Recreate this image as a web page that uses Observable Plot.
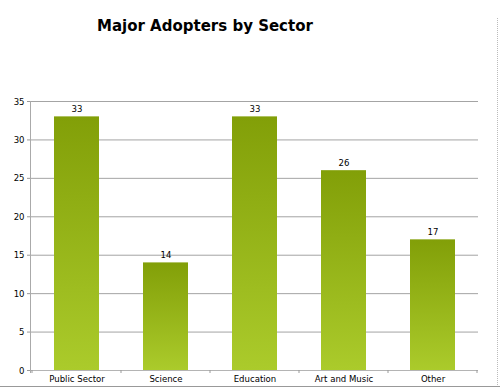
<!DOCTYPE html>
<html>
<head>
<meta charset="utf-8">
<script src="https://cdn.jsdelivr.net/npm/d3@7"></script>
<script src="https://cdn.jsdelivr.net/npm/@observablehq/plot@0.6"></script>
<style>
  html, body { margin: 0; padding: 0; background: #fff; }
  #wrap { position: relative; width: 500px; height: 387px; overflow: hidden; }
  #title { position: absolute; left: 97px; top: 18px; white-space: nowrap; line-height: 17px;
           font-family: "DejaVu Sans", Verdana, sans-serif; font-weight: bold; font-size: 15px; color: #000; }
  #chart { position: absolute; left: 0; top: 60px; }
  #edgeR { position: absolute; left: 497px; top: 18px; height: 369px; border-left: 1px dotted #bbb; }
  #edgeB { position: absolute; left: 0; top: 386px; width: 500px; border-top: 1px solid #999; }
</style>
</head>
<body>
<div id="wrap">
  <div id="title">Major Adopters by Sector</div>
  <div id="chart"></div>
  <div id="edgeR"></div>
  <div id="edgeB"></div>
</div>
<script>
const categories = ["Public Sector", "Science", "Education", "Art and Music", "Other"];
const values = [33, 14, 33, 26, 17];
const yTicks = [0, 5, 10, 15, 20, 25, 30, 35];

const data = categories.map((c, i) => ({category: c, value: values[i]}));

const gradientDefs = () => {
  const defs = d3.create("svg:defs");
  const g = defs.append("linearGradient")
    .attr("id", "barGrad")
    .attr("x1", 0).attr("y1", 0).attr("x2", 0).attr("y2", 1);
  g.append("stop").attr("offset", "0%").attr("stop-color", "#829f08");
  g.append("stop").attr("offset", "100%").attr("stop-color", "#abcb2b");
  return defs.node();
};

// small tick marks at category band boundaries, drawn from the x scale
const bandTicks = (index, scales) => {
  const x = scales.x, y = scales.y;
  const bw = x.bandwidth();
  const step = x(categories[1]) - x(categories[0]);
  const y0 = y(0);
  const g = d3.create("svg:g").attr("stroke", "#999").attr("stroke-width", 1);
  const edges = categories.map(c => x(c) + bw / 2 - step / 2);
  edges.push(x(categories[categories.length - 1]) + bw / 2 + step / 2);
  for (const e of edges) {
    g.append("line").attr("x1", e).attr("x2", e).attr("y1", y0).attr("y2", y0 + 3);
  }
  return g.node();
};

const font = "DejaVu Sans Condensed, DejaVu Sans, Verdana, sans-serif";

const plot = Plot.plot({
  width: 500,
  height: 327,
  marginLeft: 30,
  marginRight: 22,
  marginTop: 41,
  marginBottom: 17,
  style: {fontFamily: font, fontSize: "9px", color: "#000", background: "#fff", overflow: "visible"},
  x: {domain: categories, paddingInner: 0.5, paddingOuter: 0.25, label: null},
  y: {domain: [0, 35], label: null},
  marks: [
    gradientDefs,
    Plot.ruleY(yTicks.filter(d => d > 0), {stroke: "#a4a4a4", strokeWidth: 1}),
    Plot.barY(data, {x: "category", y: "value", fill: "url(#barGrad)"}),
    Plot.ruleY([0], {stroke: "#b4b4b4", strokeWidth: 1}),
    Plot.axisY({ticks: yTicks, tickSize: 3, tickPadding: 3, stroke: "#999", fill: "#000", fontSize: 9.5, label: null}),
    Plot.axisX({tickSize: 0, tickPadding: 5, fill: "#000", fontSize: 9.5, label: null}),
    bandTicks,
    Plot.text(data, {x: "category", y: "value", text: d => String(d.value), dy: -8, fill: "#000", fontSize: 9.5})
  ]
});

// left axis line
const svg = d3.select(plot);
svg.append("line").attr("x1", 30.5).attr("x2", 30.5).attr("y1", 41).attr("y2", 313).attr("stroke", "#aaa");

document.getElementById("chart").appendChild(plot);
</script>
</body>
</html>
